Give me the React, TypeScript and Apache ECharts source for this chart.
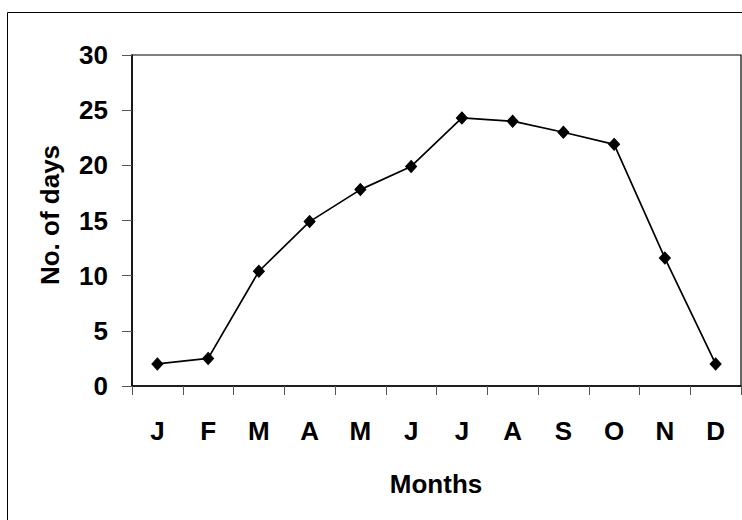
import React, { useEffect, useRef } from "react";
import * as echarts from "echarts";

const months = ["J", "F", "M", "A", "M", "J", "J", "A", "S", "O", "N", "D"];
const days = [2.0, 2.5, 10.4, 14.9, 17.8, 19.9, 24.3, 24.0, 23.0, 21.9, 11.6, 2.0];
const yMin = 0;
const yMax = 30;
const yStep = 5;
const xTitle = "Months";
const yTitle = "No. of days";

const FONT = "'Liberation Sans', Arial, sans-serif";

export default function App() {
  const ref = useRef<HTMLDivElement>(null);
  useEffect(() => {
    if (!ref.current) return;
    const chart = echarts.init(ref.current, undefined, { renderer: "svg" });
    chart.setOption({
      animation: false,
      backgroundColor: "#ffffff",
      grid: {
        left: 132,
        right: 1,
        top: 55,
        bottom: 134,
        show: true,
        borderColor: "#000",
        borderWidth: 1.2,
        backgroundColor: "transparent",
      },
      xAxis: {
        type: "category",
        data: months,
        boundaryGap: true,
        axisLine: { lineStyle: { color: "#000", width: 1.5 } },
        axisTick: { show: true, length: 9, lineStyle: { color: "#555", width: 1 } },
        axisLabel: {
          color: "#000",
          fontFamily: FONT,
          fontWeight: "bold",
          fontSize: 26,
          margin: 32,
        },
        splitLine: { show: false },
      },
      yAxis: {
        type: "value",
        min: yMin,
        max: yMax,
        interval: yStep,
        axisLine: { show: true, lineStyle: { color: "#000", width: 1.5 } },
        axisTick: { show: true, length: 10, lineStyle: { color: "#555", width: 1 } },
        axisLabel: {
          color: "#000",
          fontFamily: FONT,
          fontWeight: "bold",
          fontSize: 26,
          margin: 24,
        },
        splitLine: { show: false },
      },
      graphic: [
        {
          type: "rect",
          shape: { x: 7.5, y: 12.5, width: 900, height: 700 },
          style: { fill: "none", stroke: "#000", lineWidth: 1 },
          silent: true,
          z: -1,
        },
        {
          type: "text",
          x: 436,
          y: 484,
          style: {
            text: xTitle,
            font: `bold 26px ${FONT}`,
            fill: "#000",
            textAlign: "center",
            textVerticalAlign: "middle",
          },
        },
        {
          type: "text",
          x: 50,
          y: 215,
          rotation: Math.PI / 2,
          style: {
            text: yTitle,
            font: `bold 26px ${FONT}`,
            fill: "#000",
            textAlign: "center",
            textVerticalAlign: "middle",
          },
        },
      ],
      series: [
        {
          type: "line",
          data: days,
          symbol: "diamond",
          symbolSize: [11, 12],
          showAllSymbol: true,
          lineStyle: { color: "#000", width: 1.7 },
          itemStyle: { color: "#000", borderColor: "#000" },
        },
      ],
    });
    return () => chart.dispose();
  }, []);
  return (
    <div
      ref={ref}
      style={{ position: "absolute", left: 0, top: 0, width: 742, height: 520 }}
    />
  );
}
